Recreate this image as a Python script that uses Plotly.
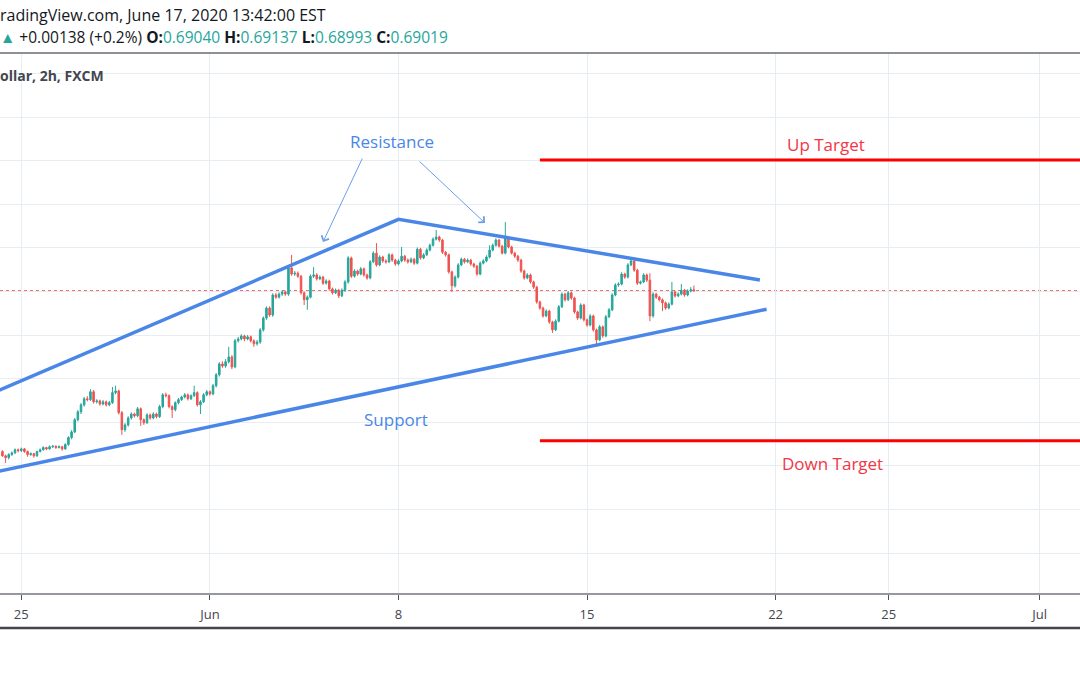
import pandas as pd
import plotly.graph_objects as go

# ---------------- data (AUD/USD 2h, FXCM) ----------------
open_ = [0.6533, 0.6523, 0.6519, 0.6526, 0.6530, 0.6537, 0.6535, 0.6539, 0.6533, 0.6526,
         0.6528, 0.6523, 0.6533, 0.6537, 0.6542, 0.6539, 0.6544, 0.6545, 0.6542, 0.6544,
         0.6539, 0.6549, 0.6565, 0.6578, 0.6606, 0.6624, 0.6640, 0.6654, 0.6652, 0.6670,
         0.6647, 0.6649, 0.6642, 0.6647, 0.6640, 0.6645, 0.6668, 0.6672, 0.6622, 0.6583,
         0.6594, 0.6610, 0.6619, 0.6615, 0.6631, 0.6606, 0.6599, 0.6617, 0.6610, 0.6619,
         0.6613, 0.6636, 0.6663, 0.6661, 0.6636, 0.6629, 0.6645, 0.6652, 0.6658, 0.6663,
         0.6654, 0.6661, 0.6668, 0.6640, 0.6647, 0.6663, 0.6670, 0.6665, 0.6684, 0.6709,
         0.6734, 0.6729, 0.6739, 0.6750, 0.6727, 0.6787, 0.6791, 0.6798, 0.6791, 0.6796,
         0.6787, 0.6780, 0.6784, 0.6812, 0.6839, 0.6862, 0.6846, 0.6892, 0.6887, 0.6894,
         0.6899, 0.6894, 0.6954, 0.6940, 0.6942, 0.6935, 0.6897, 0.6881, 0.6887, 0.6935,
         0.6938, 0.6929, 0.6933, 0.6919, 0.6924, 0.6906, 0.6897, 0.6903, 0.6890, 0.6903,
         0.6922, 0.6977, 0.6935, 0.6947, 0.6940, 0.6952, 0.6938, 0.6931, 0.6968, 0.6988,
         0.6961, 0.6979, 0.6970, 0.6968, 0.6984, 0.6972, 0.6963, 0.6970, 0.6981, 0.6972,
         0.6968, 0.6974, 0.6965, 0.6997, 0.6977, 0.6984, 0.6995, 0.7006, 0.7020, 0.7025,
         0.7018, 0.6990, 0.6984, 0.6945, 0.6913, 0.6933, 0.6961, 0.6974, 0.6968, 0.6972,
         0.6963, 0.6958, 0.6940, 0.6965, 0.6970, 0.6979, 0.6995, 0.7006, 0.7018, 0.7004,
         0.6988, 0.7023, 0.7002, 0.6988, 0.6981, 0.6972, 0.6947, 0.6931, 0.6938, 0.6922,
         0.6910, 0.6876, 0.6862, 0.6844, 0.6855, 0.6830, 0.6812, 0.6832, 0.6865, 0.6894,
         0.6881, 0.6897, 0.6885, 0.6853, 0.6839, 0.6869, 0.6835, 0.6823, 0.6844, 0.6812,
         0.6789, 0.6819, 0.6798, 0.6842, 0.6858, 0.6892, 0.6915, 0.6917, 0.6940, 0.6933,
         0.6961, 0.6970, 0.6949, 0.6919, 0.6922, 0.6938, 0.6926, 0.6844, 0.6894, 0.6887,
         0.6881, 0.6874, 0.6862, 0.6871, 0.6899, 0.6890, 0.6894, 0.6903, 0.6892, 0.6901,
         0.69040]
high = [0.6536, 0.6526, 0.6529, 0.6533, 0.6540, 0.6540, 0.6542, 0.6541, 0.6535, 0.6531,
        0.6530, 0.6535, 0.6540, 0.6545, 0.6544, 0.6547, 0.6548, 0.6547, 0.6547, 0.6546,
        0.6552, 0.6568, 0.6582, 0.6610, 0.6628, 0.6644, 0.6658, 0.6660, 0.6676, 0.6674,
        0.6653, 0.6652, 0.6651, 0.6650, 0.6649, 0.6681, 0.6684, 0.6675, 0.6626, 0.6598,
        0.6614, 0.6623, 0.6622, 0.6635, 0.6634, 0.6609, 0.6621, 0.6620, 0.6623, 0.6622,
        0.6640, 0.6667, 0.6668, 0.6664, 0.6639, 0.6648, 0.6656, 0.6661, 0.6667, 0.6666,
        0.6664, 0.6684, 0.6671, 0.6651, 0.6667, 0.6674, 0.6673, 0.6688, 0.6713, 0.6738,
        0.6740, 0.6745, 0.6773, 0.6754, 0.6791, 0.6796, 0.6802, 0.6801, 0.6800, 0.6799,
        0.6790, 0.6789, 0.6816, 0.6843, 0.6866, 0.6866, 0.6896, 0.6897, 0.6898, 0.6903,
        0.6902, 0.6960, 0.6984, 0.6947, 0.6946, 0.6938, 0.6900, 0.6891, 0.6939, 0.6956,
        0.6942, 0.6937, 0.6936, 0.6928, 0.6927, 0.6909, 0.6907, 0.6906, 0.6907, 0.6926,
        0.6981, 0.6980, 0.6951, 0.6950, 0.6956, 0.6955, 0.6941, 0.6972, 0.6992, 0.7011,
        0.6983, 0.6982, 0.6974, 0.6988, 0.6987, 0.6975, 0.6974, 0.7002, 0.6984, 0.6976,
        0.6978, 0.6977, 0.7001, 0.7000, 0.6988, 0.6999, 0.7010, 0.7024, 0.7041, 0.7028,
        0.7021, 0.6993, 0.6987, 0.6948, 0.6937, 0.6965, 0.6978, 0.6977, 0.6976, 0.6975,
        0.6966, 0.6961, 0.6969, 0.6974, 0.6983, 0.7006, 0.7010, 0.7022, 0.7021, 0.7007,
        0.7059, 0.7027, 0.7005, 0.6991, 0.6984, 0.6975, 0.6950, 0.6942, 0.6941, 0.6925,
        0.6913, 0.6879, 0.6865, 0.6859, 0.6858, 0.6833, 0.6836, 0.6869, 0.6898, 0.6897,
        0.6901, 0.6900, 0.6888, 0.6856, 0.6873, 0.6872, 0.6838, 0.6848, 0.6847, 0.6815,
        0.6823, 0.6822, 0.6846, 0.6862, 0.6896, 0.6919, 0.6921, 0.6944, 0.6943, 0.6965,
        0.6977, 0.6973, 0.6952, 0.6925, 0.6942, 0.6941, 0.6942, 0.6898, 0.6897, 0.6890,
        0.6884, 0.6877, 0.6875, 0.6922, 0.6902, 0.6898, 0.6917, 0.6906, 0.6905, 0.6910,
        0.69137]
low = [0.6521, 0.6507, 0.6515, 0.6523, 0.6527, 0.6531, 0.6532, 0.6530, 0.6521, 0.6523,
       0.6519, 0.6521, 0.6531, 0.6535, 0.6536, 0.6537, 0.6541, 0.6539, 0.6540, 0.6535,
       0.6537, 0.6546, 0.6561, 0.6575, 0.6602, 0.6619, 0.6636, 0.6648, 0.6649, 0.6643,
       0.6643, 0.6638, 0.6639, 0.6636, 0.6637, 0.6642, 0.6664, 0.6618, 0.6571, 0.6578,
       0.6590, 0.6606, 0.6611, 0.6612, 0.6592, 0.6594, 0.6596, 0.6606, 0.6607, 0.6609,
       0.6610, 0.6632, 0.6657, 0.6632, 0.6610, 0.6625, 0.6641, 0.6649, 0.6655, 0.6650,
       0.6651, 0.6658, 0.6636, 0.6619, 0.6644, 0.6660, 0.6661, 0.6662, 0.6680, 0.6705,
       0.6725, 0.6725, 0.6735, 0.6722, 0.6724, 0.6783, 0.6788, 0.6786, 0.6788, 0.6783,
       0.6773, 0.6776, 0.6780, 0.6808, 0.6835, 0.6842, 0.6842, 0.6883, 0.6884, 0.6890,
       0.6890, 0.6890, 0.6936, 0.6936, 0.6931, 0.6893, 0.6869, 0.6858, 0.6884, 0.6931,
       0.6925, 0.6926, 0.6915, 0.6916, 0.6902, 0.6893, 0.6894, 0.6885, 0.6887, 0.6899,
       0.6918, 0.6931, 0.6932, 0.6936, 0.6937, 0.6934, 0.6927, 0.6928, 0.6965, 0.6957,
       0.6958, 0.6966, 0.6964, 0.6965, 0.6968, 0.6959, 0.6960, 0.6967, 0.6968, 0.6964,
       0.6965, 0.6961, 0.6962, 0.6973, 0.6974, 0.6981, 0.6992, 0.7003, 0.7017, 0.7014,
       0.6986, 0.6980, 0.6941, 0.6899, 0.6909, 0.6930, 0.6958, 0.6964, 0.6965, 0.6959,
       0.6954, 0.6936, 0.6937, 0.6962, 0.6967, 0.6976, 0.6992, 0.7003, 0.7001, 0.6985,
       0.6985, 0.6999, 0.6985, 0.6977, 0.6968, 0.6943, 0.6927, 0.6928, 0.6918, 0.6906,
       0.6872, 0.6858, 0.6840, 0.6841, 0.6826, 0.6805, 0.6809, 0.6829, 0.6862, 0.6877,
       0.6878, 0.6881, 0.6849, 0.6835, 0.6836, 0.6831, 0.6819, 0.6820, 0.6808, 0.6777,
       0.6786, 0.6794, 0.6795, 0.6839, 0.6855, 0.6889, 0.6911, 0.6914, 0.6929, 0.6930,
       0.6958, 0.6945, 0.6915, 0.6916, 0.6919, 0.6922, 0.6832, 0.6840, 0.6883, 0.6877,
       0.6855, 0.6858, 0.6859, 0.6868, 0.6886, 0.6887, 0.6891, 0.6888, 0.6889, 0.6898,
       0.68993]
close = [0.6523, 0.6519, 0.6526, 0.6530, 0.6537, 0.6535, 0.6539, 0.6533, 0.6526, 0.6528,
         0.6523, 0.6533, 0.6537, 0.6542, 0.6539, 0.6544, 0.6545, 0.6542, 0.6544, 0.6539,
         0.6549, 0.6565, 0.6578, 0.6606, 0.6624, 0.6640, 0.6654, 0.6652, 0.6670, 0.6647,
         0.6649, 0.6642, 0.6647, 0.6640, 0.6645, 0.6668, 0.6672, 0.6622, 0.6583, 0.6594,
         0.6610, 0.6619, 0.6615, 0.6631, 0.6606, 0.6599, 0.6617, 0.6610, 0.6619, 0.6613,
         0.6636, 0.6663, 0.6661, 0.6636, 0.6629, 0.6645, 0.6652, 0.6658, 0.6663, 0.6654,
         0.6661, 0.6668, 0.6640, 0.6647, 0.6663, 0.6670, 0.6665, 0.6684, 0.6709, 0.6734,
         0.6729, 0.6739, 0.6750, 0.6727, 0.6787, 0.6791, 0.6798, 0.6791, 0.6796, 0.6787,
         0.6780, 0.6784, 0.6812, 0.6839, 0.6862, 0.6846, 0.6892, 0.6887, 0.6894, 0.6899,
         0.6894, 0.6954, 0.6940, 0.6942, 0.6935, 0.6897, 0.6881, 0.6887, 0.6935, 0.6938,
         0.6929, 0.6933, 0.6919, 0.6924, 0.6906, 0.6897, 0.6903, 0.6890, 0.6903, 0.6922,
         0.6977, 0.6935, 0.6947, 0.6940, 0.6952, 0.6938, 0.6931, 0.6968, 0.6988, 0.6961,
         0.6979, 0.6970, 0.6968, 0.6984, 0.6972, 0.6963, 0.6970, 0.6981, 0.6972, 0.6968,
         0.6974, 0.6965, 0.6997, 0.6977, 0.6984, 0.6995, 0.7006, 0.7020, 0.7025, 0.7018,
         0.6990, 0.6984, 0.6945, 0.6913, 0.6933, 0.6961, 0.6974, 0.6968, 0.6972, 0.6963,
         0.6958, 0.6940, 0.6965, 0.6970, 0.6979, 0.6995, 0.7006, 0.7018, 0.7004, 0.6988,
         0.7023, 0.7002, 0.6988, 0.6981, 0.6972, 0.6947, 0.6931, 0.6938, 0.6922, 0.6910,
         0.6876, 0.6862, 0.6844, 0.6855, 0.6830, 0.6812, 0.6832, 0.6865, 0.6894, 0.6881,
         0.6897, 0.6885, 0.6853, 0.6839, 0.6869, 0.6835, 0.6823, 0.6844, 0.6812, 0.6789,
         0.6819, 0.6798, 0.6842, 0.6858, 0.6892, 0.6915, 0.6917, 0.6940, 0.6933, 0.6961,
         0.6970, 0.6949, 0.6919, 0.6922, 0.6938, 0.6926, 0.6844, 0.6894, 0.6887, 0.6881,
         0.6874, 0.6862, 0.6871, 0.6899, 0.6890, 0.6894, 0.6903, 0.6892, 0.6901, 0.6904,
         0.69019]

# bar open times (session time, 2h bars, weekdays only)
first_bar = "2020-05-22 12:00"
last_bar = "2020-06-17 20:00"
bar_times = [t for t in pd.date_range(first_bar, last_bar, freq="2h") if t.weekday() < 5]
assert len(bar_times) == len(close) == len(open_) == len(high) == len(low)

# time axis ticks
tick_dates = ["2020-05-25", "2020-06-01", "2020-06-08", "2020-06-15",
              "2020-06-22", "2020-06-25", "2020-07-01"]
tick_labels = ["25", "Jun", "8", "15", "22", "25", "Jul"]
x_view = ["2020-05-22 10:27", "2020-07-02 01:41"]
y_view = [0.62085, 0.74470]

# drawings
resistance_t = ["2020-05-22 04:00", "2020-06-08 00:00", "2020-06-19 14:00"]
resistance_p = [0.66642, 0.70656, 0.69264]
support_t = ["2020-05-22 04:00", "2020-06-19 18:15"]
support_p = [0.64835, 0.68592]
target_t = ["2020-06-11 18:00", "2020-07-03 00:00"]
up_target = 0.72016
down_target = 0.65578

header_change = "+0.00138 (+0.2%)"

UP = "#26a69a"
DOWN = "#ef5350"
BLUE = "#4a86e8"
RED = "#ff0000"
GRID = "#e6edf3"
FONT = "Open Sans"

fig = go.Figure()
fig.add_trace(go.Candlestick(
    x=bar_times, open=open_, high=high, low=low, close=close,
    increasing=dict(line=dict(color=UP, width=1), fillcolor=UP),
    decreasing=dict(line=dict(color=DOWN, width=1), fillcolor=DOWN),
    whiskerwidth=0, hoverinfo="skip", showlegend=False,
))

# trend lines
fig.add_trace(go.Scatter(x=resistance_t, y=resistance_p, mode="lines",
                         line=dict(color=BLUE, width=3.5), hoverinfo="skip", showlegend=False))
fig.add_trace(go.Scatter(x=support_t, y=support_p, mode="lines",
                         line=dict(color=BLUE, width=3.5), hoverinfo="skip", showlegend=False))
# target lines
fig.add_trace(go.Scatter(x=target_t, y=[up_target, up_target], mode="lines",
                         line=dict(color=RED, width=3), hoverinfo="skip", showlegend=False))
fig.add_trace(go.Scatter(x=target_t, y=[down_target, down_target], mode="lines",
                         line=dict(color=RED, width=3), hoverinfo="skip", showlegend=False))

# last price dotted line
fig.add_shape(type="line", xref="paper", x0=0, x1=1, yref="y", y0=close[-1], y1=close[-1],
              line=dict(color=DOWN, width=1, dash="dot"), layer="below")
# top separator and bottom border
fig.add_shape(type="line", xref="paper", yref="paper", x0=0, x1=1, y0=1, y1=1,
              line=dict(color="#6a6d78", width=1.5))
fig.add_shape(type="line", xref="paper", yref="paper", x0=0, x1=1, y0=-0.0648, y1=-0.0648,
              line=dict(color="#434651", width=2.5))

PLOT_H = 540.0
def py(pix):
    return (593.0 - pix) / PLOT_H

def px(pix):
    return pix / 1080.0

ann = []
ann.append(dict(x=0, y=py(15), xref="paper", yref="paper", xanchor="left", yanchor="middle",
                xshift=-2, showarrow=False,
                text="radingView.com, June 17, 2020 13:42:00 EST",
                font=dict(family=FONT, size=16, color="#131722")))
ohlc = (f"<span style='color:{UP}'>▲</span> {header_change} "
        f"<b>O:</b><span style='color:{UP}'>{open_[-1]:.5f}</span> "
        f"<b>H:</b><span style='color:{UP}'>{high[-1]:.5f}</span> "
        f"<b>L:</b><span style='color:{UP}'>{low[-1]:.5f}</span> "
        f"<b>C:</b><span style='color:{UP}'>{close[-1]:.5f}</span>")
ann.append(dict(x=0, y=py(37), xref="paper", yref="paper", xanchor="left", yanchor="middle",
                xshift=-2, showarrow=False, text=ohlc,
                font=dict(family=FONT, size=15.5, color="#131722")))
ann.append(dict(x=0, y=py(75), xref="paper", yref="paper", xanchor="left", yanchor="middle",
                xshift=-2, showarrow=False, text="<b>ollar, 2h, FXCM</b>",
                font=dict(family=FONT, size=14, color="#434651")))

for txt, cx, cy, col in [("Resistance", 392, 141, BLUE), ("Support", 396, 419, BLUE),
                         ("Up Target", 826, 144, "#f23645"), ("Down Target", 832, 463, "#f23645")]:
    ann.append(dict(x=px(cx), y=py(cy), xref="paper", yref="paper", showarrow=False,
                    xanchor="center", yanchor="middle", text=txt,
                    font=dict(family=FONT, size=17, color=col)))
# arrows from "Resistance"
ann.append(dict(x=px(323), y=py(242), xref="paper", yref="paper", text="", showarrow=True,
                ax=40, ay=-85, arrowhead=4, arrowsize=1.6, arrowwidth=1, arrowcolor="#6d9eeb"))
ann.append(dict(x=px(485), y=py(223), xref="paper", yref="paper", text="", showarrow=True,
                ax=-67, ay=-63, arrowhead=4, arrowsize=1.6, arrowwidth=1, arrowcolor="#6d9eeb"))

fig.update_layout(
    width=1080, height=675,
    margin=dict(l=0, r=0, t=53, b=82, pad=0),
    paper_bgcolor="white", plot_bgcolor="white",
    showlegend=False,
    annotations=ann,
    font=dict(family=FONT, color="#131722"),
    xaxis=dict(
        type="date", range=x_view,
        rangebreaks=[dict(bounds=["sat", "mon"])],
        rangeslider=dict(visible=False),
        tickvals=tick_dates, ticktext=tick_labels,
        showgrid=True, gridcolor=GRID, gridwidth=1,
        ticks="outside", ticklen=5, tickcolor="#50535e", tickwidth=1,
        showline=True, linecolor="#9598a1", linewidth=1.5,
        tickfont=dict(family=FONT, size=13, color="#434651"),
        ticklabelstandoff=4,
        zeroline=False, fixedrange=True,
    ),
    yaxis=dict(
        range=y_view, tick0=0.63, dtick=0.01,
        showgrid=True, gridcolor=GRID, gridwidth=1,
        showticklabels=False, zeroline=False, showline=False, fixedrange=True,
    ),
)

fig.write_html("out.html")
